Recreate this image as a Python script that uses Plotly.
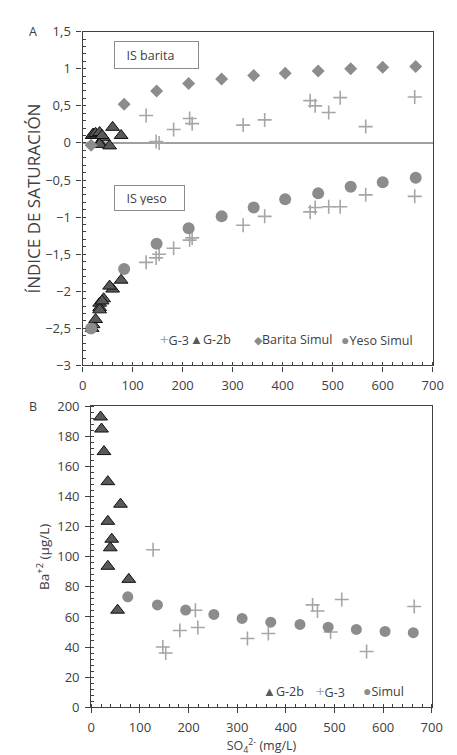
import plotly.graph_objects as go

# ---------------- data ----------------
# G-2b samples (SO4 mg/L)
g2b_so4 = [19, 21, 26, 34, 60, 34, 42, 39, 34, 77, 54]
g2b_is_barita = [0.10, 0.12, 0.13, 0.14, 0.21, 0.00, 0.07, 0.10, -0.02, 0.10, -0.04]
g2b_is_yeso = [-2.50, -2.45, -2.38, -2.16, -1.97, -2.22, -2.10, -2.13, -2.25, -1.85, -1.93]
g2b_ba = [193, 185, 170, 150, 135, 123.6, 111.7, 106, 93.7, 85, 64.5]

# G-3 samples
g3_so4 = [127, 147, 153, 182, 214, 219, 321, 364, 455, 465, 492, 515, 566, 664]
g3_is_barita = [0.37, 0.02, 0.00, 0.18, 0.33, 0.26, 0.24, 0.31, 0.57, 0.50, 0.41, 0.61, 0.22, 0.62]
g3_is_yeso = [-1.61, -1.55, -1.50, -1.42, -1.31, -1.28, -1.11, -0.99, -0.93, -0.87, -0.86, -0.86, -0.70, -0.72]
g3_ba = [104.7, 40, 36, 51, 64.5, 53, 45.7, 49, 68, 64, 50, 71.6, 37, 67]

# Simulations (panel A)
sim_so4_a = [17, 83, 148, 212, 278, 342, 405, 471, 536, 600, 666]
sim_is_barita = [-0.03, 0.52, 0.70, 0.80, 0.86, 0.91, 0.94, 0.97, 1.00, 1.02, 1.03]
sim_is_yeso = [-2.50, -1.70, -1.36, -1.15, -0.99, -0.87, -0.76, -0.68, -0.59, -0.53, -0.47]

# Simulation (panel B)
sim_so4_b = [75, 136, 194, 252, 310, 369, 429, 487, 545, 604, 662]
sim_ba = [73.4, 68, 64.6, 61.7, 59, 56.5, 55, 53.2, 51.7, 50.4, 49.5]

# ---------------- styles ----------------
FONT = "Open Sans"
TXT = "#404040"
C_G3 = "#a6a6a6"
C_G2B = "#595959"
C_SIM = "#8c8c8c"

W, H = 457, 755

g3_marker = dict(symbol="cross-thin", size=10, line=dict(color=C_G3, width=1.6))
g2b_marker = dict(symbol="triangle-up", size=12, color=C_G2B, line=dict(color="#111111", width=1))
dia_marker = dict(symbol="diamond", size=10, color=C_SIM, line=dict(width=0))
circ_marker = dict(symbol="circle", size=12, color=C_SIM, line=dict(width=0))

fig = go.Figure()

# Panel A
fig.add_trace(go.Scatter(x=g3_so4, y=g3_is_barita, mode="markers", marker=g3_marker,
                         name="G-3", xaxis="x", yaxis="y", showlegend=False))
fig.add_trace(go.Scatter(x=g3_so4, y=g3_is_yeso, mode="markers", marker=g3_marker,
                         name="G-3", xaxis="x", yaxis="y", showlegend=False))
fig.add_trace(go.Scatter(x=g2b_so4, y=g2b_is_barita, mode="markers", marker=g2b_marker,
                         name="G-2b", xaxis="x", yaxis="y", showlegend=False))
fig.add_trace(go.Scatter(x=g2b_so4, y=g2b_is_yeso, mode="markers", marker=g2b_marker,
                         name="G-2b", xaxis="x", yaxis="y", showlegend=False))
fig.add_trace(go.Scatter(x=sim_so4_a, y=sim_is_barita, mode="markers", marker=dia_marker,
                         name="Barita Simul", xaxis="x", yaxis="y", showlegend=False))
fig.add_trace(go.Scatter(x=sim_so4_a, y=sim_is_yeso, mode="markers", marker=circ_marker,
                         name="Yeso Simul", xaxis="x", yaxis="y", showlegend=False))

# Panel B
fig.add_trace(go.Scatter(x=g2b_so4, y=g2b_ba, mode="markers", marker=g2b_marker,
                         name="G-2b", xaxis="x2", yaxis="y2", showlegend=False))
fig.add_trace(go.Scatter(x=g3_so4, y=g3_ba, mode="markers", marker=g3_marker,
                         name="G-3", xaxis="x2", yaxis="y2", showlegend=False))
fig.add_trace(go.Scatter(x=sim_so4_b, y=sim_ba, mode="markers", marker=dict(circ_marker, size=11),
                         name="Simul", xaxis="x2", yaxis="y2", showlegend=False))


def px_x(p):
    return p / W


def px_y(p):
    return (H - p) / H


axis_common = dict(showline=True, linecolor="#404040", linewidth=1.3, mirror=True,
                   showgrid=False, ticks="outside", ticklen=5, tickwidth=1.2,
                   tickcolor="#404040", tickfont=dict(family=FONT, size=13, color=TXT),
                   ticklabelstandoff=3)

fig.update_layout(
    width=W, height=H, margin=dict(l=0, r=0, t=0, b=0), autosize=False,
    paper_bgcolor="white", plot_bgcolor="white", separators=",.",
    showlegend=False,
    xaxis=dict(axis_common, domain=[px_x(73), px_x(435)], range=[0, 700], dtick=100,
               anchor="y", zeroline=False,
               minor=dict(dtick=20, ticks="inside", ticklen=3, tickcolor="#404040")),
    yaxis=dict(axis_common, domain=[px_y(357), px_y(15)], range=[-3, 1.5], dtick=0.5,
               anchor="x", zeroline=True, zerolinecolor="#a0a0a0", zerolinewidth=1.5,
               minor=dict(dtick=0.1, ticks="inside", ticklen=3, tickcolor="#404040"),
               title=dict(text="ÍNDICE DE SATURACIÓN", standoff=0,
                          font=dict(family=FONT, size=17, color=TXT))),
    xaxis2=dict(axis_common, domain=[px_x(82), px_x(434)], range=[0, 700], dtick=100,
                anchor="y2", zeroline=False,
                minor=dict(dtick=20, ticks="inside", ticklen=3, tickcolor="#404040"),
                title=dict(text="SO<sub>4</sub><sup>2-</sup> (mg/L)", standoff=5,
                           font=dict(family=FONT, size=12.5, color=TXT))),
    yaxis2=dict(axis_common, domain=[px_y(707), px_y(399)], range=[0, 200], dtick=20,
                anchor="x2", zeroline=False,
                minor=dict(dtick=4, ticks="inside", ticklen=3, tickcolor="#404040"),
                title=dict(text="Ba<sup>+2</sup> (µg/L)", standoff=4,
                           font=dict(family=FONT, size=13.5, color=TXT))),
)

ann = []
# panel letters
ann.append(dict(text="A", x=px_x(22), y=px_y(15), xref="paper", yref="paper",
                xanchor="center", yanchor="middle", showarrow=False,
                font=dict(family=FONT, size=12.5, color=TXT)))
ann.append(dict(text="B", x=px_x(22), y=px_y(399), xref="paper", yref="paper",
                xanchor="center", yanchor="middle", showarrow=False,
                font=dict(family=FONT, size=12.5, color=TXT)))
# label boxes
for label, top, w, h in [("IS barita", 25, 73, 16), ("IS yeso", 172, 59, 14)]:
    ann.append(dict(text="&nbsp;&nbsp;" + label, x=px_x(105), y=px_y(top), xref="paper", yref="paper",
                    xanchor="left", yanchor="top", showarrow=False, align="left",
                    width=w, height=h, borderpad=5, bordercolor="#8c8c8c", borderwidth=1,
                    bgcolor="white", font=dict(family=FONT, size=12.5, color=TXT)))


def sym(ch, color, size):
    return "<span style='color:%s;font-size:%dpx'>%s</span>" % (color, size, ch)


legend_a = [(152, sym("+", C_G3, 15) + "G-3"),
            (183, sym("▲", C_G2B, 13) + "G-2b"),
            (249, sym("◆", C_SIM, 11) + "Barita Simul"),
            (339, sym("●", C_SIM, 14) + "Yeso Simul")]
for xl, t in legend_a:
    ann.append(dict(text=t, x=px_x(xl), y=px_y(330), xref="paper", yref="paper",
                    xanchor="left", yanchor="middle", showarrow=False, borderpad=0,
                    font=dict(family=FONT, size=12.5, color=TXT)))

legend_b = [(259, sym("▲", C_G2B, 13) + "G-2b"),
            (313, sym("+", C_G3, 15) + "G-3"),
            (362, sym("●", C_SIM, 14) + "Simul")]
for xl, t in legend_b:
    ann.append(dict(text=t, x=px_x(xl), y=px_y(690), xref="paper", yref="paper",
                    xanchor="left", yanchor="middle", showarrow=False, borderpad=0,
                    font=dict(family=FONT, size=12.5, color=TXT)))

fig.update_layout(annotations=ann)

fig.write_html("out.html")
